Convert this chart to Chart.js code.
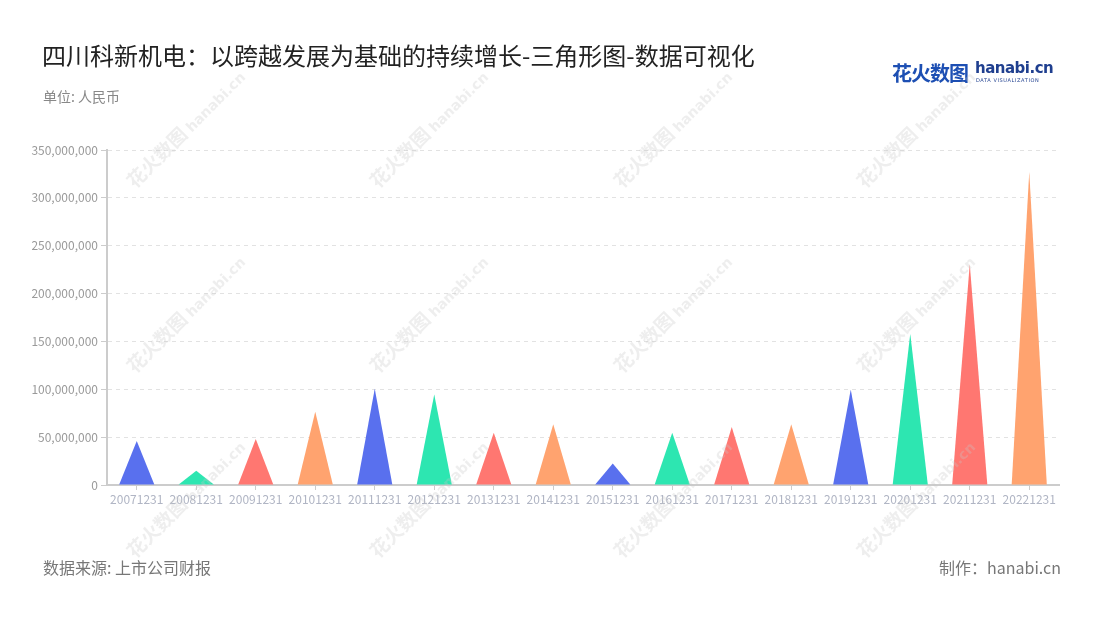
<!DOCTYPE html>
<html>
<head>
<meta charset="utf-8">
<script src="https://cdn.jsdelivr.net/npm/chart.js@4"></script>
<style>
  body { margin: 0; background: #fff; font-family: "Noto Sans CJK SC", "Noto Sans", sans-serif; }
  #wrap { position: relative; width: 1100px; height: 620px; overflow: hidden; }
  #chart { position: absolute; left: 0; top: 0; }
  .title { position: absolute; left: 42px; top: 37px; font-size: 24px; color: #222; }
  .unit { position: absolute; left: 43px; top: 86px; font-size: 14px; color: #888; }
  .src { position: absolute; left: 43px; top: 555px; font-size: 16px; color: #777; }
  .made { position: absolute; right: 39px; top: 555px; font-size: 16px; color: #777; }
  .logo { position: absolute; left: 892px; top: 58px; }
  .logo .cn { position: absolute; left: 0; top: 0; font-size: 20px; font-weight: bold; color: #1d4fb3; white-space: nowrap; letter-spacing: -1px; }
  .logo .en { position: absolute; left: 83px; top: 1px; font-size: 15px; font-weight: bold; color: #1f3f8f; font-family: "DejaVu Sans", sans-serif; letter-spacing: -0.5px; white-space: nowrap; }
  .logo .sub { position: absolute; left: 84px; top: 19px; font-size: 5px; color: #1f3f8f; letter-spacing: 0.6px; white-space: nowrap; font-family: "DejaVu Sans", sans-serif; }
  .wm { position: absolute; width: 170px; height: 30px; line-height: 30px; text-align: center; transform: rotate(-45deg); transform-origin: center; pointer-events: none; white-space: nowrap; color: rgba(200,200,200,0.3); }
  .wm .c { font-size: 19px; font-weight: bold; }
  .wm .e { font-size: 14px; font-weight: bold; font-family: "DejaVu Sans", sans-serif; margin-left: 4px; }
</style>
</head>
<body>
<div id="wrap">
  <canvas id="chart" width="1100" height="620"></canvas>
  <div class="title">四川科新机电：以跨越发展为基础的持续增长-三角形图-数据可视化</div>
  <div class="unit">单位: 人民币</div>
  <div class="src">数据来源: 上市公司财报</div>
  <div class="made">制作：hanabi.cn</div>
  <div class="logo">
    <div class="cn">花火数图</div>
    <div class="en">hanabi.cn</div>
    <div class="sub">DATA VISUALIZATION</div>
  </div>
  <div id="marks"></div>
</div>
<script>
// 年份 (报告期)
const periods = ['20071231', '20081231', '20091231', '20101231', '20111231', '20121231', '20131231', '20141231',
                 '20151231', '20161231', '20171231', '20181231', '20191231', '20201231', '20211231', '20221231'];
// 数值 (人民币)
const values = [46000000, 15000000, 48000000, 76500000, 100500000, 94500000, 54500000, 63500000,
                22500000, 54500000, 60500000, 63500000, 99500000, 158000000, 231000000, 327000000];
const yTicks = [0, 50000000, 100000000, 150000000, 200000000, 250000000, 300000000, 350000000];
const palette = ['#5970EE', '#2DE6B1', '#FF7771', '#FFA36F'];

// 水印
const marks = document.getElementById('marks');
[128, 313, 498].forEach(function(cy) {
    [185, 428, 672, 915].forEach(function(cx) {
        const d = document.createElement('div');
        d.className = 'wm';
        d.style.left = (cx - 85) + 'px';
        d.style.top = (cy - 15) + 'px';
        d.innerHTML = '<span class="c">花火数图</span><span class="e">hanabi.cn</span>';
        marks.appendChild(d);
    });
});

// 三角形
const trianglePlugin = {
    id: 'triangles',
    afterDatasetsDraw(chart) {
        const ctx = chart.ctx;
        const meta = chart.getDatasetMeta(0);
        ctx.save();
        meta.data.forEach(function(bar, i) {
            const p = bar.getProps(['x', 'y', 'base', 'width'], true);
            ctx.beginPath();
            ctx.moveTo(p.x - p.width / 2, p.base);
            ctx.lineTo(p.x, p.y);
            ctx.lineTo(p.x + p.width / 2, p.base);
            ctx.closePath();
            ctx.fillStyle = palette[i % palette.length];
            ctx.fill();
        });
        ctx.restore();
    }
};

const fontFamily = '"Noto Sans CJK SC", "Noto Sans", sans-serif';

new Chart(document.getElementById('chart'), {
    type: 'bar',
    data: {
        labels: periods,
        datasets: [{
            data: values,
            backgroundColor: 'rgba(0,0,0,0)',
            borderWidth: 0,
            categoryPercentage: 1,
            barPercentage: 0.59
        }]
    },
    options: {
        responsive: false,
        animation: false,
        layout: { padding: { left: 0, right: 41, top: 150, bottom: 105 } },
        plugins: { legend: { display: false }, tooltip: { enabled: false } },
        scales: {
            x: {
                grid: { display: true, drawOnChartArea: false, drawTicks: true, tickLength: 5, offset: false, color: '#cccccc' },
                border: { display: true, color: '#cccccc', width: 2 },
                ticks: { autoSkip: false, maxRotation: 0, padding: 2, color: '#b0b5c4', font: { family: fontFamily, size: 12 } },
                afterFit(scale) { scale.height = 30; }
            },
            y: {
                min: 0,
                max: 350000000,
                afterBuildTicks(scale) { scale.ticks = yTicks.map(v => ({ value: v })); },
                grid: { color: '#e2e2e2', tickColor: '#cccccc', tickLength: 6, drawTicks: true },
                border: { display: true, color: '#cccccc', width: 2, dash: [4, 4] },
                ticks: {
                    padding: 3,
                    color: '#9a9a9a',
                    font: { family: fontFamily, size: 12 },
                    callback: v => v.toLocaleString('en-US')
                },
                afterFit(scale) { scale.width = 107; }
            }
        }
    },
    plugins: [trianglePlugin]
});
</script>
</body>
</html>
